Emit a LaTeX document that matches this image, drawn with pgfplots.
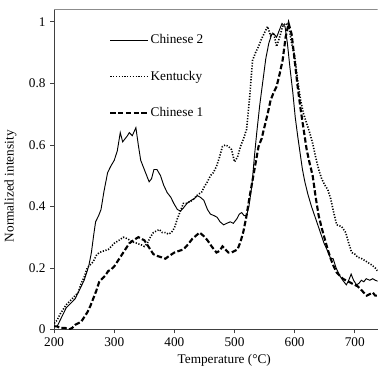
\documentclass[border=0pt]{standalone}
\usepackage{pgfplots}
\pgfplotsset{compat=1.18}
\usepackage{fontspec}
\setmainfont{Liberation Serif}
\begin{document}
\begin{tikzpicture}
\begin{axis}[
  scale only axis,
  width=243.75pt, height=241.5pt,
  xmin=200, xmax=738, ymin=0, ymax=1.042,
  axis lines*=left,
  axis line style={black!75, line width=0.6pt},
  tick align=outside,
  major tick length=3pt,
  tick style={black!75, line width=0.6pt},
  xtick={200,300,...,700},
  ytick={0,0.2,...,1},
  yticklabels={0,0.2,0.4,0.6,0.8,1},
  font=\fontsize{10}{12}\selectfont,
  /pgf/number format/assume math mode=true,
  ticklabel style={font=\fontsize{10}{12}\selectfont},
  xlabel={Temperature (°C)},
  ylabel={Normalized intensity},
  xlabel style={at={(axis description cs:0.526,-0.096)}, anchor=center},
  ylabel style={at={(axis description cs:-0.135,0.447)}, anchor=center},
  legend cell align=left,
  legend style={draw=none, fill=none, at={(axis description cs:0.17,0.925)}, anchor=north west,
    row sep=17pt, font=\fontsize{10}{12}\selectfont, inner sep=0pt,
    nodes={inner sep=1pt}},
  legend image code/.code={\draw[#1] (0pt,0pt) -- (28.5pt,0pt);},
  clip=true,
]
% Chinese 2
\addplot[black, line width=0.7pt] coordinates {
(200,0.01)(205,0.01)(210,0.03)(215,0.05)(220,0.07)(225,0.08)(230,0.09)(235,0.10)(240,0.12)(245,0.14)(250,0.16)(255,0.19)(258,0.21)(262,0.25)(266,0.31)(269,0.35)(274,0.37)(278,0.39)(283,0.45)(289,0.51)(294,0.53)(300,0.55)(305,0.58)(310,0.64)(314,0.61)(318,0.62)(322,0.63)(325,0.64)(330,0.63)(336,0.656)(340,0.60)(344,0.55)(350,0.52)(358,0.48)(362,0.49)(366,0.52)(371,0.52)(377,0.50)(382,0.47)(388,0.445)(394,0.43)(399,0.41)(405,0.39)(410,0.385)(415,0.395)(421,0.41)(428,0.42)(433,0.425)(438,0.435)(443,0.43)(449,0.42)(455,0.39)(460,0.375)(466,0.37)(471,0.365)(476,0.35)(482,0.34)(487,0.345)(493,0.35)(498,0.345)(504,0.36)(508,0.375)(512,0.38)(516,0.37)(520,0.37)(524,0.40)(529,0.47)(533,0.56)(537,0.64)(542,0.73)(548,0.82)(552,0.88)(557,0.93)(562,0.96)(566,0.96)(570,0.95)(574,0.97)(579,0.995)(584,0.985)(588,0.93)(592,0.855)(597,0.77)(601,0.69)(605,0.63)(609,0.575)(613,0.52)(617,0.48)(622,0.44)(628,0.40)(635,0.36)(642,0.32)(649,0.28)(656,0.25)(660,0.23)(664,0.23)(669,0.20)(675,0.175)(680,0.16)(686,0.145)(690,0.16)(694,0.18)(698,0.16)(703,0.145)(707,0.15)(711,0.16)(715,0.155)(719,0.165)(725,0.16)(730,0.165)(734,0.16)(738,0.157)
};
\addlegendentry{Chinese 2}
% Kentucky
\addplot[black, line width=1.2pt, dash pattern=on 0.9pt off 1.2pt] coordinates {
(200,0.02)(205,0.03)(210,0.05)(215,0.065)(220,0.08)(225,0.09)(230,0.10)(240,0.12)(245,0.15)(250,0.17)(255,0.20)(260,0.21)(265,0.22)(270,0.24)(275,0.25)(282,0.255)(290,0.26)(295,0.27)(300,0.28)(308,0.29)(315,0.30)(322,0.295)(330,0.285)(338,0.28)(345,0.275)(350,0.27)(355,0.28)(360,0.30)(365,0.315)(370,0.32)(375,0.325)(380,0.315)(385,0.315)(390,0.31)(395,0.315)(400,0.33)(405,0.36)(410,0.385)(415,0.41)(420,0.41)(425,0.415)(430,0.42)(435,0.43)(440,0.44)(445,0.445)(450,0.465)(455,0.48)(460,0.50)(465,0.51)(470,0.53)(475,0.56)(480,0.595)(485,0.60)(490,0.595)(495,0.585)(500,0.545)(505,0.56)(510,0.595)(515,0.62)(520,0.65)(525,0.75)(530,0.875)(535,0.90)(540,0.92)(545,0.945)(550,0.965)(555,0.985)(560,0.955)(565,0.965)(570,0.92)(575,0.95)(580,0.985)(585,0.995)(590,0.99)(595,0.93)(600,0.89)(605,0.81)(610,0.745)(615,0.70)(620,0.67)(625,0.64)(630,0.605)(635,0.56)(640,0.52)(645,0.49)(650,0.47)(655,0.455)(660,0.425)(665,0.38)(670,0.34)(678,0.335)(685,0.315)(690,0.28)(695,0.25)(700,0.245)(705,0.235)(712,0.23)(720,0.22)(728,0.21)(734,0.20)(738,0.19)
};
\addlegendentry{Kentucky}
% Chinese 1
\addplot[black, line width=1.6pt, dash pattern=on 4pt off 1.8pt] coordinates {
(200,0.01)(205,0.01)(210,0.005)(218,0.005)(225,0)(230,0.005)(235,0.015)(240,0.02)(245,0.025)(250,0.04)(255,0.055)(260,0.075)(265,0.10)(270,0.125)(275,0.155)(280,0.165)(285,0.175)(290,0.19)(295,0.195)(300,0.205)(305,0.22)(310,0.235)(315,0.25)(320,0.265)(325,0.28)(332,0.29)(340,0.30)(345,0.295)(350,0.29)(355,0.275)(360,0.26)(365,0.245)(370,0.24)(378,0.235)(385,0.23)(392,0.24)(400,0.25)(407,0.255)(415,0.26)(422,0.275)(430,0.295)(436,0.305)(442,0.315)(448,0.305)(455,0.29)(462,0.27)(470,0.25)(475,0.255)(480,0.27)(485,0.26)(490,0.25)(495,0.25)(500,0.255)(505,0.26)(510,0.285)(515,0.32)(520,0.37)(525,0.43)(530,0.485)(535,0.54)(540,0.595)(545,0.62)(550,0.66)(555,0.70)(560,0.745)(565,0.77)(570,0.79)(575,0.83)(580,0.875)(585,0.95)(590,0.995)(595,0.96)(600,0.875)(605,0.79)(610,0.715)(615,0.65)(620,0.585)(625,0.54)(630,0.50)(635,0.43)(640,0.37)(645,0.33)(650,0.295)(655,0.26)(660,0.23)(665,0.205)(670,0.185)(675,0.175)(680,0.165)(685,0.16)(690,0.155)(695,0.15)(700,0.145)(705,0.14)(710,0.13)(715,0.12)(720,0.11)(725,0.115)(730,0.12)(734,0.11)(738,0.11)
};
\addlegendentry{Chinese 1}
\draw[black!45, line width=0.6pt] (rel axis cs:0,1) -- (rel axis cs:1,1);
\end{axis}
\path (-39.75pt,-30pt) rectangle (243.75pt,248.25pt);
\end{tikzpicture}
\end{document}
